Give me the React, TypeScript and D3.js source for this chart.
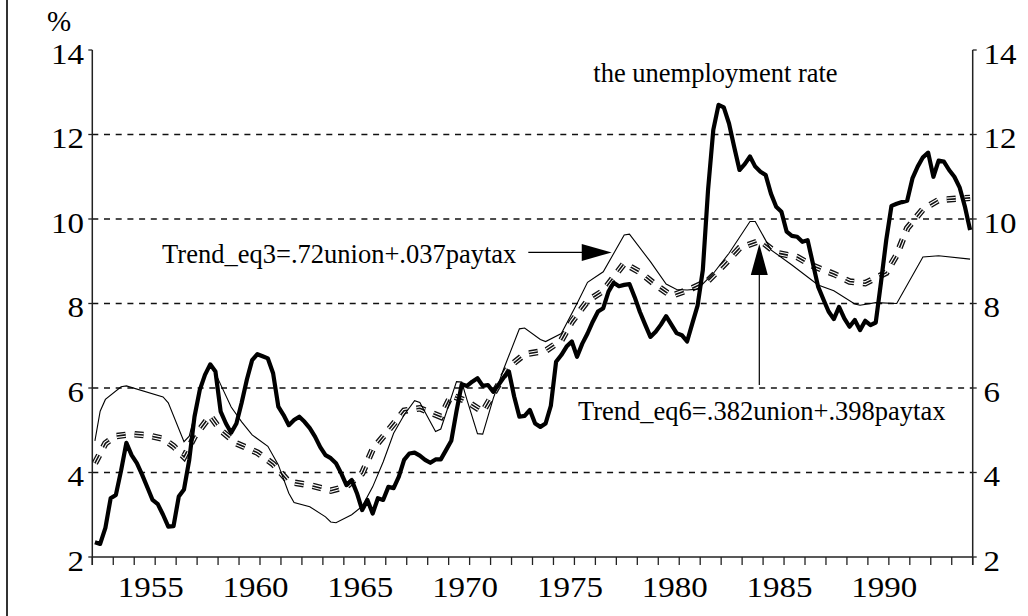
import * as d3 from "d3";

// quarterly unemployment rate, 1952Q1 .. 1993Q4
const firstYear = 1952;
const unemployment = [
  2.35, 2.31, 2.69, 3.39, // 1952
  3.47, 4.05, 4.7, 4.41,
  4.22, 3.95, 3.65, 3.35,
  3.25, 3.0, 2.72, 2.73, // 1955
  3.43, 3.6, 4.3, 5.32,
  5.95, 6.31, 6.56, 6.39,
  5.44, 5.16, 4.94, 5.16,
  5.65, 6.2, 6.66, 6.8,
  6.75, 6.7, 6.35, 5.56, // 1960
  5.36, 5.12, 5.24, 5.32,
  5.2, 5.05, 4.85, 4.6,
  4.41, 4.34, 4.22, 3.98,
  3.7, 3.82, 3.51, 3.11,
  3.35, 3.03, 3.39, 3.35, // 1965
  3.66, 3.63, 3.9, 4.3,
  4.45, 4.47, 4.4, 4.3,
  4.23, 4.31, 4.31, 4.53,
  4.75, 5.45, 6.09, 6.05,
  6.15, 6.23, 6.05, 6.07, // 1970
  5.91, 6.07, 6.25, 6.39,
  5.8, 5.32, 5.34, 5.48,
  5.16, 5.08, 5.16, 5.58,
  6.62, 6.78, 6.98, 7.1,
  6.74, 7.05, 7.29, 7.57, // 1975
  7.81, 7.89, 8.28, 8.49,
  8.41, 8.44, 8.46, 8.15,
  7.8, 7.5, 7.21, 7.33,
  7.5, 7.7, 7.5, 7.3,
  7.25, 7.1, 7.53, 7.95, // 1980
  8.79, 10.69, 12.11, 12.7,
  12.64, 12.26, 11.7, 11.16,
  11.3, 11.48, 11.24, 11.12,
  11.04, 10.6, 10.29, 10.17,
  9.7, 9.6, 9.58, 9.46, // 1985
  9.5, 8.95, 8.4, 8.1,
  7.81, 7.63, 7.92, 7.65,
  7.45, 7.61, 7.37, 7.59,
  7.49, 7.55, 8.5, 9.5,
  10.31, 10.36, 10.4, 10.43, // 1990
  10.96, 11.24, 11.46, 11.57,
  11.0, 11.38, 11.36, 11.16,
  11.0, 10.75, 10.3, 9.74,
];

// Trend_eq3 (thin line)
const eq3Dates = [
  1952.125, 1952.375, 1952.625, 1953.375, 1953.625, 1955.375, 1955.625, 1956.375,
  1956.625, 1956.875, 1957.125, 1957.375, 1957.625, 1957.875, 1958.125, 1958.625,
  1959.125, 1959.625, 1960.375, 1960.875, 1961.375, 1961.625, 1962.375, 1963.125,
  1963.375, 1963.625, 1964.375, 1964.875, 1965.375, 1965.875, 1966.375, 1966.875,
  1967.375, 1967.625, 1968.375, 1968.625, 1969.375, 1969.625, 1969.875, 1970.375,
  1970.625, 1971.125, 1971.625, 1972.375, 1972.625, 1973.375, 1973.625, 1974.375,
  1975.125, 1975.625, 1976.375, 1977.375, 1977.625, 1978.625, 1979.375, 1979.875,
  1980.375, 1980.875, 1981.625, 1982.375, 1983.375, 1983.625, 1984.375, 1985.375,
  1986.625, 1987.375, 1988.375, 1988.625, 1989.375, 1990.375, 1991.625, 1992.375,
  1993.875,
];
const eq3Values = [
  4.75, 5.45, 5.73, 6.03, 6.05, 5.79, 5.65, 4.73,
  4.86, 5.35, 5.95, 6.33, 6.55, 6.35, 6.08, 5.55,
  5.2, 4.89, 4.62, 4.18, 3.51, 3.29, 3.19, 2.95,
  2.83, 2.81, 3.0, 3.2, 3.66, 4.25, 4.93, 5.36,
  5.7, 5.66, 4.97, 5.03, 6.15, 6.14, 5.72, 4.92,
  4.91, 5.75, 6.45, 7.4, 7.42, 7.15, 7.1, 7.29,
  8.0, 8.5, 8.75, 9.62, 9.64, 8.99, 8.46, 8.33,
  8.32, 8.34, 8.71, 9.19, 9.94, 9.94, 9.27, 8.91,
  8.44, 8.3, 7.99, 7.96, 8.02, 8.0, 9.1, 9.13,
  9.05,
];

// Trend_eq6 (triple dashed line)
const eq6Dates = [
  1952.125, 1952.625, 1952.875, 1953.125, 1953.875, 1954.625, 1955.375, 1955.875,
  1956.375, 1956.875, 1957.625, 1958.125, 1958.875, 1959.875, 1960.625, 1961.375,
  1962.375, 1963.375, 1964.125, 1964.875, 1965.375, 1966.125, 1966.875, 1967.625,
  1968.625, 1969.125, 1969.875, 1970.625, 1971.875, 1972.625, 1973.625, 1974.375,
  1974.875, 1975.625, 1976.375, 1977.375, 1978.125, 1978.875, 1979.625, 1980.625,
  1981.375, 1982.125, 1982.875, 1983.875, 1984.625, 1985.625, 1986.375, 1987.375,
  1988.125, 1988.875, 1989.875, 1990.375, 1990.875, 1991.625, 1992.375, 1993.875,
];
const eq6Values = [
  4.22, 4.69, 4.78, 4.86, 4.91, 4.88, 4.8, 4.62,
  4.37, 4.85, 5.34, 5.0, 4.69, 4.47, 4.2, 3.78,
  3.7, 3.57, 3.67, 3.98, 4.55, 5.0, 5.46, 5.52,
  5.32, 5.83, 5.68, 5.44, 6.5, 6.8, 6.88, 7.13,
  7.57, 8.06, 8.3, 8.95, 8.74, 8.44, 8.18, 8.36,
  8.54, 8.91, 9.31, 9.49, 9.2, 9.1, 8.89, 8.7,
  8.52, 8.48, 8.73, 9.15, 9.78, 10.23, 10.45, 10.5,
];

const yTicks = [2, 4, 6, 8, 10, 12, 14];
const gridValues = [4, 6, 8, 10, 12];
const yearLabels = [1955, 1960, 1965, 1970, 1975, 1980, 1985, 1990];

const serif = "'Liberation Serif', 'Times New Roman', serif";

export default function App() {
  const width = 1028;
  const height = 616;
  const x = d3.scaleLinear().domain([1952, 1994]).range([92.3, 972.7]);
  const y = d3.scaleLinear().domain([2, 14]).range([557, 50]);
  const line = d3
    .line<[number, number]>()
    .x((d) => x(d[0]))
    .y((d) => y(d[1]));

  const uPath = line(
    unemployment.map((v, i) => [firstYear + (i + 0.5) / 4, v] as [number, number])
  );
  const eq3Path = line(eq3Dates.map((t, i) => [t, eq3Values[i]] as [number, number]));
  const eq6Path = line(eq6Dates.map((t, i) => [t, eq6Values[i]] as [number, number]));

  const [x0, x1] = x.range();
  const yBottom = y(2);
  const yearTicks = d3.range(1952, 1995);

  // arrow geometry (data coords)
  const a3 = { x0: x(1972.8), x1: x(1976.78), y: y(9.21) };
  const a6 = { x: x(1983.82), y0: y(6.07), y1: y(9.41) };

  // tick labels in the original are a bit wider than the font
  const stretch = 1.1;

  return (
    <svg
      width={width}
      height={height}
      style={{ position: "absolute", left: 0, top: 0, background: "#fff" }}
      fontFamily={serif}
    >
      <rect x={6} y={0} width={2} height={height} fill="#333" />

      {gridValues.map((v) => (
        <line
          key={`g${v}`}
          x1={x0}
          x2={x1}
          y1={y(v)}
          y2={y(v)}
          stroke="#111"
          strokeWidth={1.3}
          strokeDasharray="6,5.7"
        />
      ))}

      {/* axes */}
      <line x1={x0} x2={x1} y1={yBottom} y2={yBottom} stroke="#222" strokeWidth={1.5} />
      <line x1={x0} x2={x0} y1={y(14)} y2={yBottom + 8} stroke="#222" strokeWidth={1.5} />
      <line x1={x1} x2={x1} y1={y(14)} y2={yBottom + 8} stroke="#222" strokeWidth={1.5} />
      {yearTicks.map((t) => (
        <line
          key={`xt${t}`}
          x1={x(t)}
          x2={x(t)}
          y1={yBottom}
          y2={yBottom + 8}
          stroke="#222"
          strokeWidth={1.3}
        />
      ))}
      {yTicks.map((v) => (
        <g key={`yt${v}`}>
          <line x1={x0 - 4} x2={x0} y1={y(v)} y2={y(v)} stroke="#222" strokeWidth={1.3} />
          <line x1={x1} x2={x1 + 4} y1={y(v)} y2={y(v)} stroke="#222" strokeWidth={1.3} />
          <text
            transform={`translate(84,${y(v) + 13.5}) scale(${stretch},1)`}
            fontSize={30}
            textAnchor="end"
            fill="#000"
          >
            {v}
          </text>
          <text
            transform={`translate(983.5,${y(v) + 13.5}) scale(${stretch},1)`}
            fontSize={30}
            textAnchor="start"
            fill="#000"
          >
            {v}
          </text>
        </g>
      ))}
      {yearLabels.map((t) => (
        <text
          key={`xl${t}`}
          transform={`translate(${x(t) - 4.5},597) scale(${stretch},1)`}
          fontSize={30}
          textAnchor="middle"
          fill="#000"
        >
          {t}
        </text>
      ))}
      <text x={59} y={31} fontSize={29} textAnchor="middle" fill="#000">
        %
      </text>

      {/* series */}
      <g fill="none" strokeDasharray="9,9">
        <path d={eq6Path ?? ""} stroke="#111" strokeWidth={6.5} />
        <path d={eq6Path ?? ""} stroke="#fff" strokeWidth={3.8} />
        <path d={eq6Path ?? ""} stroke="#111" strokeWidth={1.6} />
      </g>
      <path d={eq3Path ?? ""} fill="none" stroke="#000" strokeWidth={1.1} />
      <path
        d={uPath ?? ""}
        fill="none"
        stroke="#000"
        strokeWidth={4.2}
        strokeLinejoin="round"
      />

      {/* annotations */}
      <text x={x(1975.9)} y={y(13.24)} fontSize={26.5} fill="#000">
        the unemployment rate
      </text>
      <text x={x(1955.33)} y={y(8.96)} fontSize={26.5} fill="#000">
        Trend_eq3=.72union+.037paytax
      </text>
      <text x={x(1975.17)} y={y(5.24)} fontSize={26.5} fill="#000">
        Trend_eq6=.382union+.398paytax
      </text>

      <line x1={a3.x0} x2={a3.x1 - 28} y1={a3.y} y2={a3.y} stroke="#000" strokeWidth={1.2} />
      <polygon
        points={`${a3.x1},${a3.y} ${a3.x1 - 30},${a3.y - 8.5} ${a3.x1 - 30},${a3.y + 8.5}`}
        fill="#000"
      />
      <line x1={a6.x} x2={a6.x} y1={a6.y0} y2={a6.y1 + 29} stroke="#000" strokeWidth={1.2} />
      <polygon
        points={`${a6.x},${a6.y1} ${a6.x - 8.5},${a6.y1 + 31} ${a6.x + 8.5},${a6.y1 + 31}`}
        fill="#000"
      />
    </svg>
  );
}
